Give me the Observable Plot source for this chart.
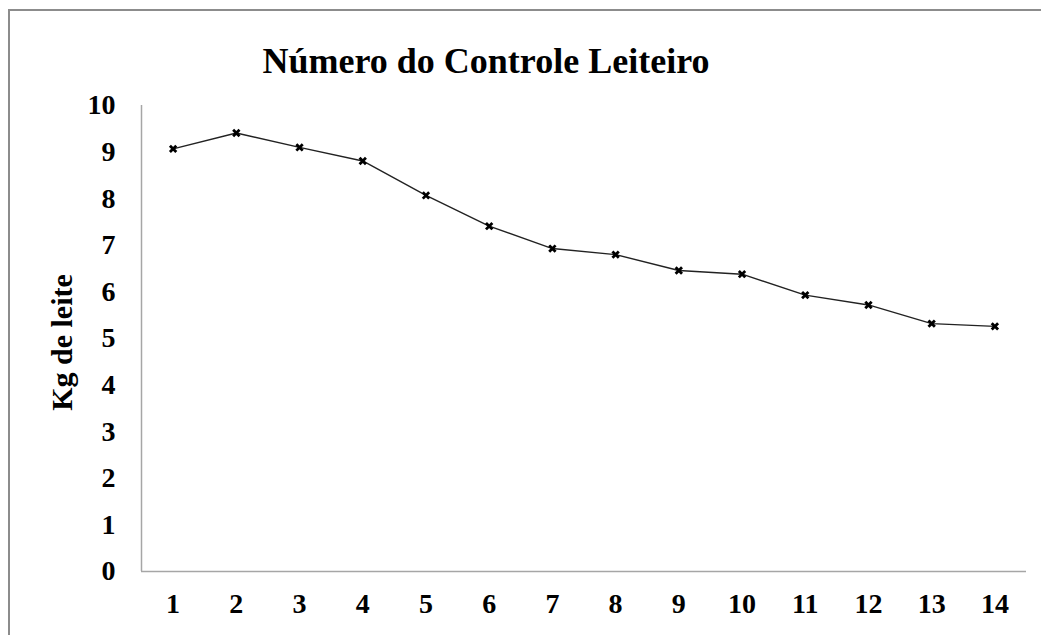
<!DOCTYPE html>
<html>
<head>
<meta charset="utf-8">
<script src="https://cdn.jsdelivr.net/npm/d3@7"></script>
<script src="https://cdn.jsdelivr.net/npm/@observablehq/plot@0.6"></script>
<style>
  html, body { margin: 0; padding: 0; background: #fff; overflow: hidden; }
  #wrap { position: relative; width: 1041px; height: 635px; }
  #border { position: absolute; left: 8px; top: 9px; width: 1100px; height: 700px; border: 2px solid #8c8c8c; box-sizing: border-box; }
  #title { position: absolute; left: 0; width: 972px; top: 40px; text-align: center;
           font-family: "Liberation Serif", "Times New Roman", serif; font-weight: bold; font-size: 36px; color: #000; }
  #chart { position: absolute; left: 0; top: 0; }
</style>
</head>
<body>
<div id="wrap">
  <div id="border"></div>
  <div id="chart"></div>
  <div id="title">Número do Controle Leiteiro</div>
</div>
<script>
const controle = [1, 2, 3, 4, 5, 6, 7, 8, 9, 10, 11, 12, 13, 14];
const kgLeite = [9.07, 9.41, 9.10, 8.81, 8.07, 7.41, 6.93, 6.80, 6.46, 6.38, 5.93, 5.72, 5.32, 5.26];
const yTicks = [0, 1, 2, 3, 4, 5, 6, 7, 8, 9, 10];
const yLabel = "Kg de leite";

const data = controle.map((c, i) => ({controle: c, kg: kgLeite[i]}));
const xDomain = [controle[0] - 0.5, controle[controle.length - 1] + 0.5];
const yDomain = [yTicks[0], yTicks[yTicks.length - 1]];

const font = "Liberation Serif, Times New Roman, serif";

const plot = Plot.plot({
  width: 1041,
  height: 635,
  marginLeft: 141,
  marginRight: 15,
  marginTop: 105,
  marginBottom: 64,
  style: {fontFamily: font, background: "transparent", color: "#000"},
  x: {domain: xDomain},
  y: {domain: yDomain},
  marks: [
    Plot.axisY({ticks: yTicks, tickSize: 0, tickPadding: 26, fontSize: 28, fontWeight: "bold",
      label: null, tickFormat: d => String(d)}),
    Plot.axisX({ticks: controle, tickSize: 0, tickPadding: 22, fontSize: 28, fontWeight: "bold",
      label: null, tickFormat: d => String(d)}),
    Plot.text([yLabel], {frameAnchor: "left", dx: -79, dy: 4, rotate: -90, textAnchor: "middle",
      fontSize: 30, fontWeight: "bold", fill: "#000"}),
    Plot.ruleY([yDomain[0]], {stroke: "#a6a6a6", strokeWidth: 1.5}),
    Plot.ruleX([xDomain[0]], {stroke: "#a6a6a6", strokeWidth: 1.5}),
    Plot.line(data, {x: "controle", y: "kg", stroke: "#222", strokeWidth: 1.4}),
    Plot.dot(data, {x: "controle", y: "kg", symbol: "times", r: 3, stroke: "#000", strokeWidth: 2.8})
  ]
});
document.getElementById("chart").appendChild(plot);
</script>
</body>
</html>
